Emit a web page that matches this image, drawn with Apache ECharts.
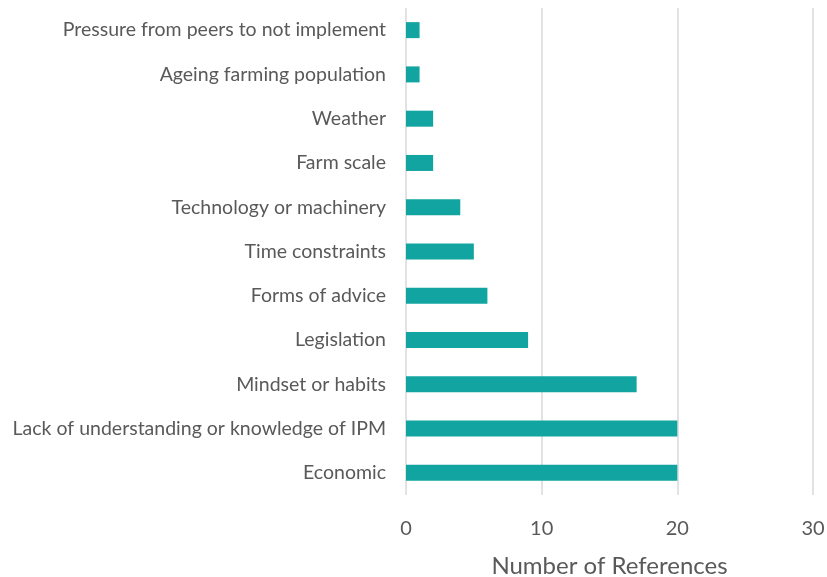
<!DOCTYPE html>
<html>
<head>
<meta charset="utf-8">
<script src="https://cdn.jsdelivr.net/npm/echarts@6/dist/echarts.min.js"></script>
<style>
  html, body { margin: 0; padding: 0; background: #ffffff; overflow: hidden; }
  #chart { position: absolute; left: 0; top: 0; width: 827px; height: 577px; }
</style>
</head>
<body>
<div id="chart"></div>
<script>
// Barriers to IPM adoption, listed bottom-to-top as drawn on the category axis
const categories = [
  'Economic',
  'Lack of understanding or knowledge of IPM',
  'Mindset or habits',
  'Legislation',
  'Forms of advice',
  'Time constraints',
  'Technology or machinery',
  'Farm scale',
  'Weather',
  'Ageing farming population',
  'Pressure from peers to not implement'
];
const referenceCounts = [20, 20, 17, 9, 6, 5, 4, 2, 2, 1, 1];
const axisTicks = [0, 10, 20, 30];

const FONT = 'Lato';
const TEXT = '#595959';

const chart = echarts.init(document.getElementById('chart'), null, {
  renderer: 'canvas', width: 827, height: 577
});
chart.setOption({
  animation: false,
  grid: {
    left: 406, right: 14, top: 8, bottom: 82,
    containLabel: false,
    outerBoundsMode: 'none'
  },
  xAxis: {
    type: 'value',
    min: axisTicks[0],
    max: axisTicks[axisTicks.length - 1],
    interval: axisTicks[1] - axisTicks[0],
    name: 'Number of References',
    nameLocation: 'middle',
    nameGap: 59,
    nameTextStyle: { fontFamily: FONT, fontSize: 24, color: TEXT },
    axisLine: { show: false },
    axisTick: { show: false },
    axisLabel: { fontFamily: FONT, fontSize: 20, color: TEXT, margin: 24 },
    splitLine: { show: true, lineStyle: { color: '#d9d9d9', width: 1.5 } }
  },
  yAxis: {
    type: 'category',
    data: categories,
    axisLine: { show: false },
    axisTick: { show: false },
    axisLabel: { fontFamily: FONT, fontSize: 19.5, color: TEXT, margin: 20 }
  },
  series: [{
    type: 'bar',
    data: referenceCounts,
    barWidth: 16,
    itemStyle: { color: '#12a4a0' }
  }]
});
</script>
</body>
</html>
